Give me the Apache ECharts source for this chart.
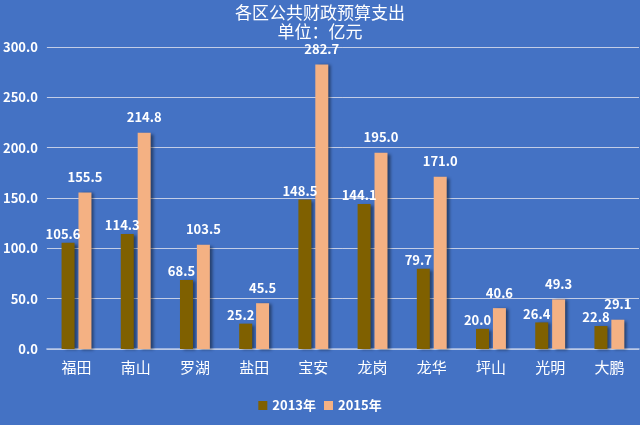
<!DOCTYPE html>
<html>
<head>
<meta charset="utf-8">
<script src="https://cdn.jsdelivr.net/npm/echarts@6/dist/echarts.min.js"></script>
<style>
html,body{margin:0;padding:0;background:#4472C4;}
#container{width:640px;height:425px;}
</style>
</head>
<body>
<div id="container"></div>
<script>
// 各区 categories and the two years of values (亿元)
var districts = ['福田', '南山', '罗湖', '盐田', '宝安', '龙岗', '龙华', '坪山', '光明', '大鹏'];
var spend2013 = [105.6, 114.3, 68.5, 25.2, 148.5, 144.1, 79.7, 20.0, 26.4, 22.8];
var spend2015 = [155.5, 214.8, 103.5, 45.5, 282.7, 195.0, 171.0, 40.6, 49.3, 29.1];
var seriesNames = ['2013年', '2015年'];

var font = '"Noto Sans CJK SC", "Noto Sans", sans-serif';
var barShadow = {
    shadowColor: 'rgba(0,0,0,0.45)',
    shadowOffsetX: 3,
    shadowOffsetY: 1,
    shadowBlur: 3
};

var myChart = echarts.init(document.getElementById('container'));
var option = {
    backgroundColor: '#4472C4',
    animation: false,
    textStyle: {fontFamily: font},
    title: {
        text: '各区公共财政预算支出\n单位：亿元',
        left: 'center',
        top: 3,
        padding: 0,
        textStyle: {
            color: '#ffffff',
            fontSize: 17,
            fontWeight: 'normal',
            lineHeight: 19,
            fontFamily: font
        }
    },
    legend: {
        data: seriesNames,
        bottom: 8,
        left: 'center',
        itemWidth: 9,
        itemHeight: 9,
        itemGap: 8,
        icon: 'rect',
        textStyle: {color: '#ffffff', fontSize: 13, fontWeight: 'bold', fontFamily: font}
    },
    grid: {left: 46, right: 1, top: 47, bottom: 76, containLabel: false},
    xAxis: {
        type: 'category',
        data: districts,
        axisLine: {lineStyle: {color: '#b9c7e6', width: 1.5}},
        axisTick: {show: false},
        axisLabel: {color: '#ffffff', fontSize: 15, margin: 11, fontFamily: font}
    },
    yAxis: {
        type: 'value',
        min: 0,
        max: 300,
        interval: 50,
        axisLine: {show: false},
        axisTick: {show: false},
        axisLabel: {
            color: '#ffffff',
            fontSize: 13,
            fontWeight: 'bold',
            margin: 9,
            formatter: function (v) { return v.toFixed(1); }
        },
        splitLine: {lineStyle: {color: '#c3cde6', width: 1}}
    },
    series: [
        {
            name: seriesNames[0],
            type: 'bar',
            data: spend2013,
            barWidth: 13,
            barGap: '30%',
            itemStyle: Object.assign({color: '#7F6000'}, barShadow),
            label: {
                show: true,
                position: 'top',
                distance: 4,
                offset: [-5, 2],
                color: '#ffffff',
                fontSize: 13,
                fontWeight: 'bold',
                formatter: function (p) { return p.value.toFixed(1); }
            }
        },
        {
            name: seriesNames[1],
            type: 'bar',
            data: spend2015,
            barWidth: 13,
            itemStyle: Object.assign({color: '#F4B183'}, barShadow),
            label: {
                show: true,
                position: 'top',
                distance: 9,
                color: '#ffffff',
                fontSize: 13,
                fontWeight: 'bold',
                formatter: function (p) { return p.value.toFixed(1); }
            }
        }
    ]
};
myChart.setOption(option);
</script>
</body>
</html>
